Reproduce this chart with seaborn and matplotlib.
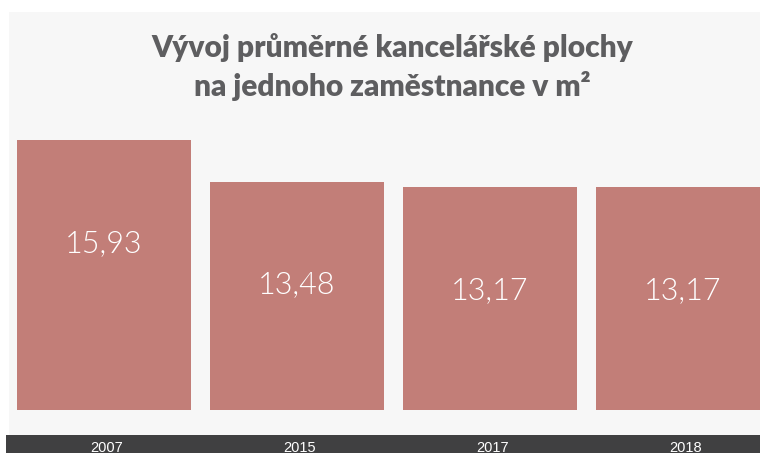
import matplotlib
matplotlib.use("Agg")
import matplotlib.pyplot as plt
import matplotlib.transforms as mtransforms
import seaborn as sns
import pandas as pd
from matplotlib.patches import Rectangle

years = ["2007", "2015", "2017", "2018"]
values = [15.93, 13.48, 13.17, 13.17]
value_labels = ["15,93", "13,48", "13,17", "13,17"]
title = "Vývoj průměrné kancelářské plochy\nna jednoho zaměstnance v m²"

sns.set_theme(style="white")
plt.rcParams['font.family'] = ['Lato', 'DejaVu Sans']

W, H = 760, 453
fig = plt.figure(figsize=(W / 100, H / 100), dpi=100)
fig.patch.set_facecolor("white")


def fx(px):
    return px / W


def fy(py):
    return 1 - py / H


# light panel and dark strip
fig.patches.append(Rectangle((fx(9), fy(435)), fx(W - 9), (435 - 12) / H,
                             transform=fig.transFigure, facecolor="#f7f7f7",
                             edgecolor="none", zorder=-10))
fig.patches.append(Rectangle((fx(6), 0), fx(W - 6), (H - 435) / H,
                             transform=fig.transFigure, facecolor="#404041",
                             edgecolor="none", zorder=-10))

step = 193.0
left_px = 104 - 0.5 * step
xr = (W - left_px) / step - 0.5
base_px = 410
top_px = 12
scale = 16.95
ax = fig.add_axes([fx(left_px), fy(base_px), fx(W - left_px), (base_px - top_px) / H])
ax.set_facecolor("none")
ax.set_zorder(5)

df = pd.DataFrame({"year": years, "value": values})
sns.barplot(data=df, x="year", y="value", color="#c27e78", saturation=1,
            width=174 / step, ax=ax, edgecolor="none", linewidth=0)
ax.set_xlim(-0.5, xr)
ax.set_ylim(0, (base_px - top_px) / scale)
ax.axis("off")

for i, (v, lab) in enumerate(zip(values, value_labels)):
    ax.text(i, v - 6.1, lab, ha="center", va="center", color="white",
            fontsize=22, fontweight=300, family=["Lato", "DejaVu Sans"])

trans = mtransforms.blended_transform_factory(ax.transData, fig.transFigure)
for i, y in enumerate(years):
    ax.text(i + 0.015, fy(447.5), y, ha="center", va="center", color="white",
            fontsize=10.5, transform=trans,
            family=["Liberation Sans", "DejaVu Sans"], clip_on=False)

fig.text(fx(392), fy(67), title, ha="center", va="center", color="#5e5e60",
         fontsize=21.5, fontweight="heavy", linespacing=1.33,
         family=["Lato", "DejaVu Sans"])

fig.savefig("out.png", dpi=100, facecolor=fig.get_facecolor())
